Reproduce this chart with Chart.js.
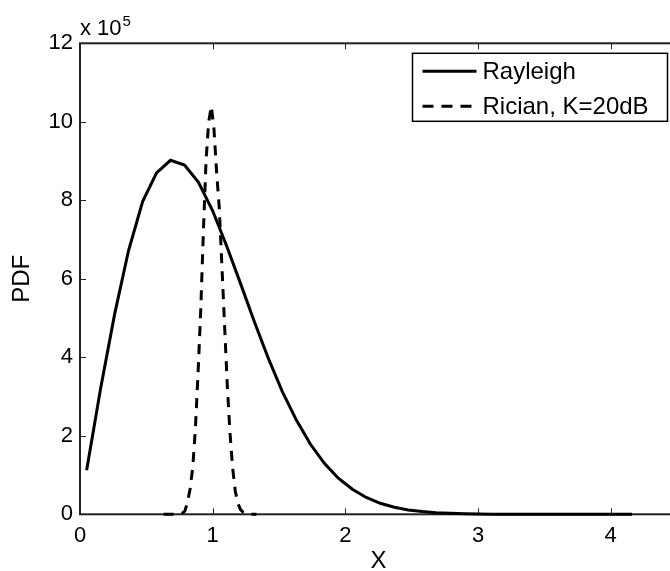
<!DOCTYPE html>
<html>
<head>
<meta charset="utf-8">
<script src="https://cdn.jsdelivr.net/npm/chart.js@4.4.1/dist/chart.umd.min.js"></script>
<style>
  html, body { margin: 0; padding: 0; overflow: hidden; background: #fff; }
  canvas { display: block; }
</style>
</head>
<body>
<canvas id="myChart" width="700" height="590"></canvas>
<script>
// values in units of 1e5
const rayleighX = [0.050, 0.155, 0.261, 0.366, 0.472, 0.577, 0.682, 0.788, 0.893, 0.999,
  1.104, 1.209, 1.315, 1.420, 1.526, 1.631, 1.736, 1.842, 1.947, 2.053,
  2.158, 2.263, 2.369, 2.474, 2.580, 2.685, 2.790, 2.896, 3.001, 3.107,
  3.212, 3.317, 3.423, 3.528, 3.634, 3.739, 3.844, 3.950, 4.055, 4.161]
const rayleighY = [1.12, 3.2, 5.1, 6.72, 7.97, 8.70, 9.02, 8.90, 8.46, 7.74,
  6.85, 5.89, 4.90, 3.97, 3.12, 2.40, 1.79, 1.30, 0.92, 0.64,
  0.43, 0.28, 0.18, 0.11, 0.07, 0.04, 0.024, 0.013, 0.007, 0.004,
  0.002, 0.001, 0, 0, 0, 0, 0, 0, 0, 0]

const ricianX = [0.63, 0.65, 0.67, 0.69, 0.71, 0.73, 0.75, 0.77, 0.79, 0.81,
  0.83, 0.85, 0.87, 0.89, 0.91, 0.93, 0.95, 0.97, 0.99, 1.01,
  1.03, 1.05, 1.07, 1.09, 1.11, 1.13, 1.15, 1.17, 1.19, 1.21,
  1.23, 1.25, 1.27, 1.29, 1.31, 1.33]
const ricianY = [0, 0, 0, 0, 0, 0, 0.01, 0.03, 0.08, 0.3,
  0.65, 1.2, 2.2, 3.6, 5.2, 7.2, 9.0, 10.0, 10.4, 9.8,
  8.7, 7.8, 6.3, 4.8, 3.3, 2.1, 1.2, 0.6, 0.28, 0.12,
  0.05, 0.02, 0.01, 0, 0, 0]

const legendLabels = ['Rayleigh', 'Rician, K=20dB']
const xTitle = 'X'
const yTitle = 'PDF'

const FONT = '"Liberation Sans", Arial, Helvetica, sans-serif'

function toPoints(xs, ys) {
  const pts = []
  for (let i = 0; i < xs.length; i++) {
    pts.push({ x: xs[i], y: ys[i] })
  }
  return pts
}

const dashes = [10, 8]

// frame, inward ticks, exponent label and legend
const matlabLook = {
  id: 'matlabLook',
  beforeDatasetsDraw(chart) {
    const { ctx, chartArea: a, scales } = chart
    ctx.save()
    ctx.strokeStyle = '#222'
    ctx.lineWidth = 1
    // ticks
    scales.x.ticks.forEach(t => {
      const px = Math.round(scales.x.getPixelForValue(t.value)) + 0.5
      ctx.beginPath()
      ctx.moveTo(px, a.bottom); ctx.lineTo(px, a.bottom - 6)
      ctx.moveTo(px, a.top); ctx.lineTo(px, a.top + 6)
      ctx.stroke()
    })
    scales.y.ticks.forEach(t => {
      const py = Math.round(scales.y.getPixelForValue(t.value)) + 0.5
      ctx.beginPath()
      ctx.moveTo(a.left, py); ctx.lineTo(a.left + 6, py)
      ctx.moveTo(a.right, py); ctx.lineTo(a.right - 6, py)
      ctx.stroke()
    })
    ctx.lineWidth = 2
    ctx.strokeRect(a.left, a.top, a.right - a.left, a.bottom - a.top)
    ctx.restore()
  },
  afterDraw(chart) {
    const { ctx, chartArea: a } = chart
    ctx.save()
    // exponent
    ctx.fillStyle = '#000'
    ctx.textBaseline = 'alphabetic'
    ctx.textAlign = 'left'
    ctx.font = '22px ' + FONT
    ctx.fillText('x 10', a.left, 35)
    const w = ctx.measureText('x 10').width
    ctx.font = '15px ' + FONT
    ctx.fillText('5', a.left + w + 1, 26)

    // legend
    const bx = 412.5, by = a.top + 10, bw = 255, bh = 68
    ctx.fillStyle = '#fff'
    ctx.fillRect(bx, by, bw, bh)
    ctx.strokeStyle = '#000'
    ctx.lineWidth = 1.5
    ctx.strokeRect(bx, by, bw, bh)
    const rows = [by + 18, by + 53]
    ctx.lineWidth = 3
    ctx.beginPath()
    ctx.moveTo(bx + 10, rows[0]); ctx.lineTo(bx + 64, rows[0])
    ctx.stroke()
    ctx.setLineDash([11, 8])
    ctx.beginPath()
    ctx.moveTo(bx + 10, rows[1]); ctx.lineTo(bx + 64, rows[1])
    ctx.stroke()
    ctx.setLineDash([])
    ctx.fillStyle = '#000'
    ctx.font = '24px ' + FONT
    ctx.textBaseline = 'middle'
    ctx.fillText(legendLabels[0], bx + 70, rows[0] + 1)
    ctx.fillText(legendLabels[1], bx + 70, rows[1] + 1)
    ctx.restore()
  }
}

const ctx = document.getElementById('myChart').getContext('2d')
const myChart = new Chart(ctx, {
  type: 'line',
  data: {
    datasets: [{
      label: legendLabels[0],
      data: toPoints(rayleighX, rayleighY),
      borderColor: '#000',
      borderWidth: 3,
      pointRadius: 0,
      tension: 0,
      clip: false
    }, {
      label: legendLabels[1],
      data: toPoints(ricianX, ricianY),
      borderColor: '#000',
      borderWidth: 3,
      borderDash: dashes,
      pointRadius: 0,
      tension: 0,
      clip: false
    }]
  },
  options: {
    responsive: false,
    animation: false,
    layout: {
      padding: { top: 43.3, right: 23, left: 0, bottom: 0 }
    },
    plugins: {
      legend: { display: false },
      tooltip: { enabled: false }
    },
    scales: {
      x: {
        type: 'linear',
        min: 0,
        max: 4.5,
        grid: { display: false, drawTicks: false },
        border: { display: false },
        ticks: {
          stepSize: 1,
          includeBounds: false,
          padding: 8,
          color: '#000',
          font: { family: FONT, size: 22 }
        },
        title: {
          display: true,
          text: xTitle,
          color: '#000',
          font: { family: FONT, size: 24 },
          padding: { top: 0, bottom: 14 }
        },
        afterFit(scale) { scale.height = 590 - 514.3 }
      },
      y: {
        type: 'linear',
        min: 0,
        max: 12,
        grid: { display: false, drawTicks: false },
        border: { display: false },
        ticks: {
          stepSize: 2,
          padding: 7,
          color: '#000',
          font: { family: FONT, size: 22 }
        },
        title: {
          display: true,
          text: yTitle,
          color: '#000',
          font: { family: FONT, size: 24 },
          padding: { top: 8, bottom: 0 }
        },
        afterFit(scale) { scale.width = 80 }
      }
    }
  },
  plugins: [matlabLook]
})
</script>
</body>
</html>
